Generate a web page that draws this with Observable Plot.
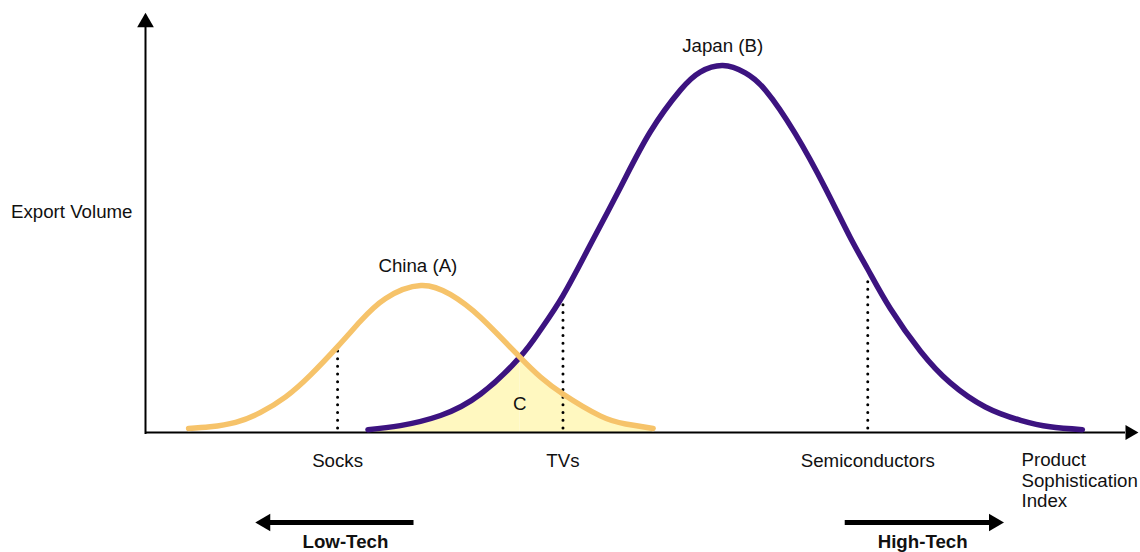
<!DOCTYPE html>
<html><head><meta charset="utf-8">
<script src="https://cdn.jsdelivr.net/npm/d3@7"></script>
<script src="https://cdn.jsdelivr.net/npm/@observablehq/plot@0.6"></script>
<style>html,body{margin:0;padding:0;background:#fff;overflow:hidden}</style>
</head><body><div id="chart"></div>
<script>
// Product sophistication index (0-100) and export volume (0-100)
const chinaIndex  = [4.4, 6.6, 9.2, 11.7, 14.3, 16.8, 19.6, 21.9, 24.5, 28.1, 31.1, 34.2, 38.2, 40.3, 42.6, 46.4, 49.0, 51.8];
const chinaVolume = [1.0, 1.4, 2.5, 4.9, 8.8, 14.1, 21.2, 27.4, 33.1, 36.3, 34.1, 28.4, 18.6, 13.7, 9.5, 4.1, 2.1, 1.0];
const japanIndex  = [22.7, 26.0, 30.1, 34.2, 38.2, 40.3, 42.6, 45.4, 48.5, 51.5, 54.6, 56.6, 58.9, 61.2, 63.3, 66.3, 69.4, 71.9, 73.7, 76.0, 79.1, 82.1, 85.7, 89.3, 92.3, 95.6];
const japanVolume = [0.7, 1.7, 4.2, 9.5, 18.6, 25.3, 33.8, 46.4, 60.7, 74.2, 84.6, 89.0, 90.6, 88.8, 84.4, 73.8, 60.2, 48.2, 40.3, 30.6, 20.0, 12.3, 6.3, 3.0, 1.4, 0.7];
const crossingIndex = 38.2;

const productNames  = ["Socks", "TVs", "Semiconductors"];
const productIndex  = [19.6, 42.6, 73.7];
const productVolume = [21.0, 33.8, 38.8];

const techLabels     = ["Low-Tech", "High-Tech"];
const techFrom       = [27.4, 71.4];
const techTo         = [11.2, 87.6];
const techLabelIndex = [20.4, 79.3];

const seriesLabels = ["China (A)", "Japan (B)"];

const china = chinaIndex.map((x, i) => ({x, y: chinaVolume[i]}));
const japan = japanIndex.map((x, i) => ({x, y: japanVolume[i]}));
const products = productNames.map((name, i) => ({name, x: productIndex[i], y: productVolume[i]}));
const tech = techLabels.map((label, i) => ({label, from: techFrom[i], to: techTo[i], lx: techLabelIndex[i], dir: techTo[i] > techFrom[i] ? 1 : -1}));
const techLeft = tech.filter(d => d.dir < 0);
const techRight = tech.filter(d => d.dir > 0);
const overlapLeft = japan.filter(d => d.x <= crossingIndex);
const overlapRight = china.filter(d => d.x >= crossingIndex);
const chinaPeak = d3.greatest(china, d => d.y);
const japanPeak = d3.greatest(japan, d => d.y);

const orange = "#f6c36a", purple = "#3c1380", yellow = "#fff8c0", ink = "#111";
const curve = "natural";
const fs = 18.7;

const chart = Plot.plot({
  width: 1140, height: 552,
  marginLeft: 145, marginRight: 15, marginTop: 27, marginBottom: 120,
  x: {domain: [0, 100], axis: null},
  y: {domain: [0, 100], axis: null},
  style: {fontFamily: "'Liberation Sans', Arial, Helvetica, sans-serif", fontSize: fs + "px", background: "#fff", color: ink},
  marks: [
    Plot.areaY(overlapLeft, {x: "x", y: "y", fill: yellow, curve}),
    Plot.areaY(overlapRight, {x: "x", y: "y", fill: yellow, curve}),
    Plot.ruleX(products, {x: "x", y1: 1, y2: "y", stroke: "#000", strokeWidth: 3, strokeDasharray: "0 7.7", strokeLinecap: "round"}),
    // axes with arrowheads
    Plot.ruleY([0], {x1: 0, x2: 100, stroke: "#000", strokeWidth: 2}),
    Plot.ruleX([0], {y1: -0.5, y2: 100, stroke: "#000", strokeWidth: 2}),
    Plot.dot([0], {x: 100, y: 0, symbol: "triangle", r: 5.57, rotate: 90, dx: 4.3, fill: "#000", stroke: null}),
    Plot.dot([0], {x: 0, y: 100, symbol: "triangle", r: 6.2, dy: -5, fill: "#000", stroke: null}),
    Plot.line(japan, {x: "x", y: "y", stroke: purple, strokeWidth: 5.5, strokeLinecap: "round", curve}),
    Plot.line(china, {x: "x", y: "y", stroke: orange, strokeWidth: 5.5, strokeLinecap: "round", curve}),
    // labels
    Plot.text([chinaPeak], {x: "x", y: "y", text: () => seriesLabels[0], dy: -19, dx: -3, fontSize: fs, fill: ink}),
    Plot.text([japanPeak], {x: "x", y: "y", text: () => seriesLabels[1], dy: -20, fontSize: fs, fill: ink}),
    Plot.text(["C"], {x: crossingIndex, y: 0, text: d => d, dy: -28.5, fontSize: fs, fill: ink}),
    Plot.text(products, {x: "x", y: 0, text: "name", dy: 28.5, fontSize: fs, fill: ink}),
    Plot.text(["Export Volume"], {frameAnchor: "left", text: d => d, textAnchor: "end", dx: -13, dy: -17.5, fontSize: fs, fill: ink}),
    Plot.text(["Product\nSophistication\nIndex"], {frameAnchor: "bottom-right", text: d => d, textAnchor: "start", dx: -104, dy: 74, lineHeight: 1.07, fontSize: fs, fill: ink}),
    // low/high tech arrows
    Plot.ruleY(tech, {x1: "from", x2: d => d.to - d.dir * 1.2, y: 0, dy: 90, stroke: "#000", strokeWidth: 5}),
    Plot.dot(techLeft, {x: "to", y: 0, dy: 90, dx: 10, symbol: "triangle", r: 6.43, rotate: -90, fill: "#000", stroke: null}),
    Plot.dot(techRight, {x: "to", y: 0, dy: 90, dx: -10, symbol: "triangle", r: 6.43, rotate: 90, fill: "#000", stroke: null}),
    Plot.text(tech, {x: "lx", y: 0, text: "label", dy: 110, fontSize: fs, fontWeight: "bold", fill: ink})
  ]
});
document.getElementById("chart").appendChild(chart);
</script>
</body></html>
